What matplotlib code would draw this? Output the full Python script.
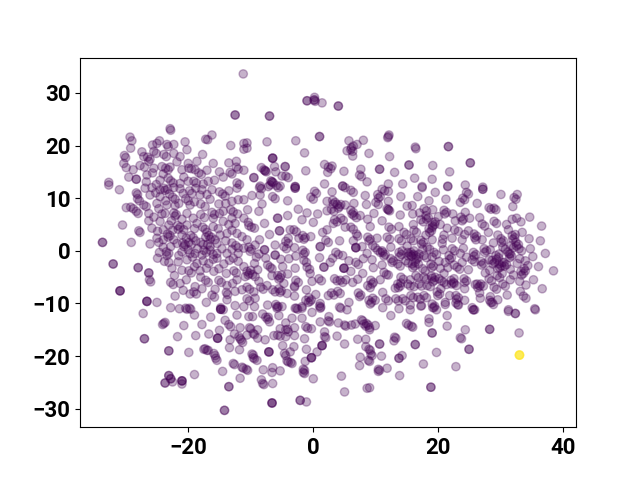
import numpy as np
import matplotlib
matplotlib.use("Agg")
import matplotlib.pyplot as plt

# (x, y) or (x, y, overlapping count)
upper_left = [(-11.2,33.6),(-12.5,25.8,2),(-22.9,23.2),(-22.8,22.9),(-29.3,21.6),(-29,20.9),(-29.2,19.5),(-30.2,18.1),(-30,17.7),(-30.3,16.6),(-29.9,15.8),
(-27.4,18.8),(-27.1,17.9),(-26.5,17.8),(-26.1,17.4),(-26.3,17),(-27.7,16.2),(-27,15.9),(-25.7,20.1),(-24.6,20.9),(-25,20.4),(-25.5,18.9),(-25.1,18.5),(-23.4,20.2),(-23.2,19.8),(-22.3,20.2),
(-20.5,20.7),(-20.2,19.2),(-22.3,18.5),(-23.9,18.3),(-23.5,17.9),(-21.3,17.9),(-21.8,16.9),(-24.2,16),(-23.6,15.7),(-23.2,15.4),(-22.9,15.9),(-25.7,14.8),(-26.6,14.4),
(-17.2,21.2),(-16.9,21.1),(-16.2,22),(-17.7,18.3),(-18.6,17),(-16,16.6),(-17,15.3),(-20,16.6),(-19.9,15.7),(-19.5,15.6),(-18.9,15.4),(-18.3,14.8),(-17.9,14.5),(-15.8,13.4),
(-13.2,20),(-11.1,20.4),(-11.1,19.3),(-13.5,16.7),(-12.3,17),(-12.3,15.9),(-12,15.5),(-13.3,14.9),(-13,14.6),(-11.1,15.3),(-32.7,13),(-29.5,14),(-28.3,13.6,2),
(-26.7,13.1),(-24.5,13.4),(-22.8,13.3),(-22.4,12.9),(-23.2,13.8),(-20.7,14),(-21.3,12.8),(-19.1,13.2),(-18.7,12.9),(-12.2,12.9),(-11.8,12.6),
(-25.5,15.7),(-21,15.4),(-16.8,13.2),(-14.4,14),(-24,14.6),(-20,13.2),(-28.8,15.4),(-25.1,12.6),(-17.6,12.7),(-15,15)]

upper_mid = [(0.2,29.15),(-1,28.5,2),(0.1,28.6),(0.3,28.4),(0.2,28.7),(1.4,28.1),(4,27.5,2),(-7,25.6,2),(1,21.7,2),(-2.8,20.9),(-7.4,20.7),(-10.6,20.5),(-10.6,19.5),(-1.4,18.6),
(12.1,22),(12,21.7),(11.9,21.5),(5.7,20.9),(8,21),(7,20.2),(6.4,19.9),(6.1,19.6),(5.4,19),(6,19.2),(6.3,18.9),(6.3,18),(8.9,18.5),(12.2,17.9),(-6.5,17.6,3),(-8.3,15.8),(-7.9,15.4),(-7.5,15),(-7.7,15.2,2),
(-6.2,16),(-4.5,16,2),(-6,15),(-5,14.2),(-4.4,14.2),(-4,13.9),(-9.5,13.9,2),(-6.8,13.3),(-6.4,12.9),(-6.6,13.1,2),(-8.5,12.3),(-1.2,15.2),(1.8,16.4),(3,16.1),(2.4,15.9),(2.8,15.6),(2.3,14.9),
(4.9,15.1),(7.6,15.5),(7.4,14.4),(7.7,14.1),(10.6,15.5,2),(13,14.9),(15.3,16.3,2),(8.6,13.1),(1.8,12.7),(4.7,12.3),(12,12.7),(14.3,12.7),(-2.9,12.2,2),(-6.9,12.5),(-7.2,12.2),(-5.3,12.3)]

upper_right = [(16.3,19.7),(16.4,19.4),(21.6,19.8,2),(25.1,16.7,2),(19.1,16.2),(21.8,15),(16.2,13.8),(19,13.6),(17.4,12.2),(21.5,12.3),(24.3,12.5),(27.1,12.1)]

left_dense = [(-31,11.6),(-32.7,12.5),(-28.3,11),(-28.1,10.7),(-28.1,9.9),(-27.8,9.5),(-29.9,8.2),(-29.2,8.3),(-28.8,8),(-28.3,7.5),(-28,7.1),(-27.1,8.7),(-26.7,8.4),(-26.3,7.1),(-26.3,5.7),(-30.5,4.9),(-27.9,3.8),(-27.7,3.5),
(-29.1,1.6),(-33.7,1.6,2),(-32,-2.5,2),(-28,-3.2,2),(-26.3,-4.2,2),(-26.2,-5.5),(-26,-5.9),(-30.9,-7.6,3),(-26.6,-9.6,3),(-25,-9.8),(-25.8,4.3),(-24.9,3.7),(-26.1,1.3),(-24.6,-0.3),(-24.7,1.6),(-23.5,-0.2),(-23.1,-0.5),(-23.4,-0.9),
(-26.9,11.9),(-25.8,12),(-24.5,11.6),(-23.9,11.9),(-23.7,11.5),(-23.3,11.7),(-22.3,12),(-21.3,11.8),(-19.4,10.9),(-17.8,11.6),(-16.2,11.6),(-14.5,10.8),(-14.1,10.4),(-12.2,11.9),
(-26.1,10.6),(-24.5,10.3),(-22.5,10.2),(-22.1,9.8),(-20.4,9.9),(-20,9.5),(-18.1,10.6),(-15.1,8.9),(-12,9.7),(-11.1,9.7),
(-24.7,8),(-23.4,8.7),(-22.1,8.6),(-19.7,8.7),(-17.3,8.4),(-16.2,7.3),(-15.8,6.9),(-14.4,7.5),(-13.2,7.8),(-12.8,7.4),(-12.1,7),
(-22.3,7.2),(-21.9,6.9),(-22.1,6.6),(-23.7,7.1),(-20.2,7.1),(-17.4,6.3),(-16,6.2),(-14.4,5.6),(-11.1,6.2),
(-24.5,5.6),(-23.1,4.9),(-21.7,4.8),(-21.3,4.5),(-21.6,4.1),(-20.2,4.9),(-17.7,4.5),(-17.3,4.1),(-18.6,5.2),(-16,4.6),(-13.5,5),(-12.5,5.2),
(-23.3,3.2),(-22.9,2.9),(-23.2,2.6),(-21,3),(-19.6,2.9),(-19.2,2.5),(-16.7,2.9),(-16.3,2.6),(-16.5,2.2),(-14.9,3),(-13.8,3.3),(-12.2,3.3),(-11.4,2.7),
(-20.9,1.5),(-20.5,1.2),(-20.7,0.8),(-21.8,1.4),(-19.9,1.6),(-19.5,1.2),(-18,1.6),(-17.6,1.2),(-16.9,1.2),(-16.5,0.8),(-15.4,1.4),(-12.4,1),(-12,0.6),(-11.1,0.5),
(-21.5,-0.9),(-19.7,-0.5),(-17.5,0.1),(-17.1,-0.3),(-18.9,-0.5),(-15.4,-0.5),(-13.8,-0.5),(-12.8,-1.4),
(-22.6,-3.3),(-20.2,-1.7),(-18.6,-2.4),(-16.7,-2.4),(-14.3,-2.5),(-19.9,-3.8),(-19.5,-4.2),(-18.1,-3.8),(-17.1,-3.3),(-15.1,-3.4),(-12.7,-3.8),(-12.3,-4.2),(-11.1,-3),
(-22.8,-6),(-22.4,-6.4),(-21.3,-6.2),(-22.2,-4.7),(-17.2,-5.6),(-16.8,-6),(-15.1,-5.6),(-14.7,-6),(-13.8,-6.6),(-18.9,-6.8),(-10.9,-4.9),(-12.2,-5.5),
(-22.1,-8.6),(-19.7,-8.2),(-19.1,-7.8),(-18.7,-8.2),(-16.2,-8.4),(-15.8,-8.8),(-13.9,-7.9),(-13.7,-8.3),(-12.5,-7.7),(-11.4,-7.4),
(-17.1,-9.8),(-13.8,-9.3),(-14.8,-10.8),(-14.4,-11.2),(-12.5,-10.4),(-11.1,-10.6),
(-25.2,11),(-23,10.8),(-20.8,10.9),(-19.8,11.4),(-18.8,11.9),(-17,10.7),(-15,11.2),(-13.5,11.4),(-25,9),(-23.6,9.5),(-21.5,9),(-19,9.3),(-18,8.9),(-16.5,9.8),(-14,9),(-13,9.4),
(-25.5,6.4),(-24.2,7),(-22.7,5.7),(-21,6),(-19.2,6.2),(-18,6.9),(-15,7.1),(-13,6.2),(-24,4),(-22.5,3.9),(-20.7,4),(-19,4.2),(-17,3.5),(-15.2,4.2),(-13,3.9),
(-25,2.4),(-24,2.1),(-22.3,2.1),(-20.3,2.4),(-18.8,1.9),(-17.2,2.6),(-15.7,2.1),(-14,1.9),(-13,1.5),(-24,0.7),(-22.8,0.8),(-21,-0.2),(-20,0.2),(-18.5,0.4),(-17.8,-0.8),(-16.5,0.1),(-16,-0.7),(-14.6,0.4),(-13,0.3),(-12,-0.5),
(-23.8,-2),(-21.6,-2.1),(-19.3,-1.2),(-17.6,-1.9),(-16,-1.6),(-15.4,-1.4),(-13.4,-1.8),(-12,-2),(-21,-3.7),(-19,-3),(-15.9,-3.9),(-13.9,-4.3),(-20.3,-5.5),(-17.8,-7.2),(-15.7,-7.3),(-12.9,-6.2),(-20.8,-7.5),(-23.1,-2.2),(-24.9,-1.4),(-18,-5)]

center = [(-8.6,12),(-8.3,11.8),(-8.5,10.6),(-9.8,10.5),(-5.9,12.4),(-5.6,12),(-2.9,11.9,2),(-6.5,10.3),(-6.1,9.9),(-4.1,9.5),(-2.4,7.9),(-0.4,10.2),(0,9.8),(0.2,11.3),(0.5,10.9),(3,11.2),(4.7,12.3),(5.1,12),(6,11.5),(6.4,11.1),(8.3,10.5),(10.3,10.7),(10.7,10.3),(10.4,10),(12,11.3),(11,11.7),(11.4,11.4),(10,9.2),(10.4,8.8),(12,9.4),(11.8,8),(12.2,7.6),(12,7.8,2),(9.7,7.1),
(3.1,9.6),(3.5,9.2),(3.2,8.9),(2.2,9.4),(3.8,8.8),(4.2,8.4),(4,8.1),(4.4,8.8),(2.9,7.9),(3.3,7.5),(2.2,7.6),(5.1,8.7),(6.5,9),(6,7.7),(6.4,7.3),(6.2,7),(4.4,6.2),(4.8,5.8),(3.4,5.9),(3.8,5.5),(6.5,6.7),(6.9,6.3),(7.5,6.7),(3.2,5.2),(2.2,4),(1.5,3.5),
(-10.5,7.8),(-8.7,7.5),(-5.7,6.2,2),(-4.1,6.7),(-1.8,5.9),(0,5.4),(-7.8,5.2),(-10.4,5.4),(-10.3,4.8),(-9.9,4.5),(-9.4,4.3),(-5.4,3.8,2),(-7,3.1),(-3.7,4),(-3.1,4),(-2.7,3.6),(-1.7,2.9),(-1.3,2.5),(-1.5,2.2),(-0.4,2.7),(-2.3,2.4),(-8.6,2.1),(-4,2.4),(-4.4,1.8),(-4,1.4),(-10.6,2.1),
(-10.3,0.7),(-9.9,0.3),(-10.1,-0.1),(-7.8,0.2,2),(-6.1,1.1),(-6.1,-0.8,2),(-4.7,0.8),(-4.3,0.4),(-3,0.6),(-1.7,0.1),(-1.3,-0.3),(-1.5,-0.6),(1.1,0.8,2),(1,-1.3),(2,2),(2.4,1.6),(4.2,1.9),(6.8,0.6,3),(6,4.5),(6.4,4.1),(6.9,3.2),(7.1,2.8),(9.1,4.6),(11,5.7),(12.1,4.5),(12.5,4.1),(13.7,4.6),(14.5,3.5),(14.9,3.1),(8.7,2.6),(9.1,2.2),(8.9,1.9),(10.2,2.4),(11.8,2.6),(12.2,2.2),(13.7,2.3),(14.1,1.9),
(9.5,1),(9.9,0.6),(8.6,-0.5),(10.3,0.1),(10.7,-0.3),(11.1,-0.3),(11.5,-0.7),(11.3,-1),(11,0),(12.4,-1.5),(12.8,-1.9),(12.6,-2.2),(13.7,-0.3),(14.1,-0.7),(13.8,-1.1),(14.2,0),(15.1,-0.3),(15.5,-0.7),(15.2,-1),(9.4,-1.7),(11,-2.7),(13.5,-2.5),(13.9,-2.9),(14.8,-1.9),(15.2,-2.3),(3.1,-1.4),(3.6,-0.3),(4,-0.7),(4.7,-0.9),(1.7,-3.1,2),(4.9,-3.3,3),(6.8,-2.2),(7.2,-2.6),(7.9,-4.3),(-1,-3.1),(-0.6,-3.5),(-1.5,-1.8),(-1.1,-2.2),(-2.9,-3.3),
(-8.7,-0.6),(-9.4,-2.4),(-7.3,-2.7),(-6.9,-3.1),(-6.6,-3.4),(-4.9,-3),(-10.6,-3.9),(-10.2,-4.3),(-10.4,-4.6),(-10,-3.7),(-8.9,-3.6),(-9.7,-4.5),(-9.3,-4.9),(-6.6,-4.7),(-5.7,-4.7),(-5.3,-5.1),(-5.5,-5.4),(-5.1,-4.6),(-4.1,-4.4),(-2.8,-5.6),(-2.4,-6),(-4.7,-6.2),(-3,-6.7),(-0.5,-4.3),(0.9,-5.3),(1.3,-5.7),(-0.2,-5.8),(3.4,-5.3),(3.8,-5.7),(4.3,-5.6),(4.7,-6),(5.2,-5.5),(6.3,-6),(9.2,-5.6),(9.6,-6),(9.4,-6.3),(8.7,-6.6),(9.1,-7),(10.7,-5.5),(12,-4.6),(11.3,-4.1),(11.7,-4.5),(13.5,-6.3),(13.9,-6.7),(13.6,-7),(14,-6.1),(14,-5),(14.4,-5.4),(15.1,-6.3),(15.5,-6.7),
(-1.1,-7.4),(2.4,-8.5),(2.9,-8),(3.3,-8.4),(3.9,-7.7),(4.3,-8.1),(7.2,-8),(7.6,-8.4),(7.4,-8.7),(11.1,-7.9),(13.1,-7.1),(-0.7,-8.9),(-0.3,-9.3),(-0.5,-9.6),(-1.2,-9.4),(-0.8,-9.8),(1.1,-10),(5.7,-9.8),(8.9,-9.4),(9.3,-9.8),(9.1,-10.1),(9.5,-9),(9.9,-9.4),(11.6,-9.1),(12,-9.5),(13.2,-9.1),(13.6,-9.5),(14.3,-9.1),(14.7,-9.5),(-10.6,-6.9),(-10.2,-7.3),(-9.5,-7.8),(-8.4,-6.9),(-8,-7.3),(-6.5,-7.4),(-6.1,-7.8),(-5.5,-7.2),(-5.1,-7.6),(-5.3,-7.9),(-4.2,-8.1),(-3,-8.6),(-9.3,-9),(-7.3,-10.3),(-6,-10.2),(-5.6,-10.6),(-5.8,-10.9),(-2.9,-10.9),(-1.8,-10.9),(-10.6,-9.1),(-10.2,-9.5),(1.1,-10.9),
(-8.2,8.9),(-9.3,1.1),(-7.6,-1.4),(-8.7,-5.8),(-7.4,-6.6),(-9.1,-1.2),(-5.2,-1.6),(-3.9,-1.5),(-2.8,-1),(2.7,-2.2),(5.7,-1.9),(6.4,1.9),(5.1,4.5),(7.8,0.8),(8,-1.5),(9.6,-3.2),(12.4,0.7),(15,0.9),(8.7,6),(13.9,6.8),(15,8.5),(14,10.3),(8.5,8.8),(-1,7.2),(0.7,7),(-3,-6.9),(0.4,-8.3),(6,-3.9),(7.1,-5.4)]

right_dense = [(17.4,12),(19.5,11.1),(21.5,12.2),(27.1,11.7,2),(16.7,10.3),(18.5,9.5),(21.2,9.8),(24.5,11.1),(24.8,10.8),(23.9,10),(24.2,9.7),(23.5,9.2),(26.2,9),(30,10.7),(32.6,10.7),(32.1,10.1),(32.4,9.8),(31.9,8.4),(28.1,8.2),(28.4,7.9),(28.9,8.1),(29.2,7.8),(15.8,8.6),(17.7,8),(18.1,7.6),(19.1,7.8),(20.9,7.7),(21.3,7.3),(21,7),(24.3,7.3),(23.6,6.4),(24,6),(23.8,5.7),(22.7,5.7),(25,6.2),(26.6,6.3),(28.9,5.6),(29.3,5.2),(31.8,6),(32.5,6.2),(34.6,6.4),(36.5,4.7),(27,5.1),(27.4,4.7),(28,3.5),(15.9,7),(18,6.7),(18.4,6.3),(18.1,6),(19,5.4),(19.4,5),(19.1,4.7),(19.5,5.5),(17.2,5.9),(17.6,5.5),(18.5,4.2),(18.9,3.8),(18.6,3.5),(19,4.4),(20.3,5),(21.4,4.3),(23.2,3.7),(24.8,3.8),(25.7,3.2),(26.1,2.8),(25.8,2.5),(26,2.1),(27,2.1),(23.8,2.1),(22.2,2.4),(20.9,3),(17.2,2),(17.6,1.6),(17.3,1.3),(16.1,3.9),(16.5,3.5),(15.6,2.3),(16,1.9),(19,2.1),(20.6,1.4),
(30,2.3),(30.4,1.9),(30.1,1.6),(31.2,4),(31.8,2.9),(32.2,2.5),(31.9,2.2),(32.3,3.1),(32.4,1.6),(32.8,1.2),(32.5,0.9),(33.4,3.5),(34.5,2.3),(36.3,1.9),(37.1,-0.5),(34.7,0.4),(35.1,-1.1),(33.9,-1.9),(36,-3),(38.4,-3.8),(35.2,-5.5),(36.6,-7.2),(33.1,-7.7),(33.6,-8.6),(34,-9),(29.5,-9.3),(28.2,-9.4),(28.6,-9.8),(28.3,-8.7),(31,-8.4),(33.2,-3.9),(33.6,-4.3),(33.3,-4.6),(33.7,-3.4),(33.9,-3.8),(32.6,-2.4),(31.3,-0.6),(31.7,-1),(31.4,-1.3),(30.3,0.7),(30.7,0.3),(29.2,-0.9),(29.6,-1.3),(29.3,-1.6),(29.7,-0.6),(29.7,-2.5),(30.1,-2.9),(29.8,-3.2),(30.2,-2.2),(29.5,-3.4),(28.6,-1.8),(29,-2.2),(28.7,-2.5),(30.5,-2.2),(30.9,-2.6),(30.6,-2.9),(28.1,-1.7),(28.3,0.2),(27.3,0.4),(27.7,0),(27.4,-0.3),(32.9,0.4),(33.3,0),(31.6,1),(32,0.6),(31.1,-0.2),(31.5,-0.6),(32,-4.6),(31.5,-5.5),(29.4,-4.7),(29.8,-5.1),(28.1,-5.3),(28.5,-5.7),(27.5,-4.2),(30.3,-6.3),(30.7,-6.7),(28.9,-6.9),(29.3,-7.3),(26.2,-6.3),(26.6,-6.7),(26.3,-7),(25.9,-6.4),(26.8,-6.3),(27.2,-6.7),(26.6,-8),(26.7,-9),(24.1,-5.3),(24.5,-5.7),(24.2,-6),(24.8,-3.6),(23,-3.1),(23.4,-3.5),(23.8,-2.2),(25.4,-1.7),(25.8,-2.1),(26.8,-2),(27.2,-2.4),(26.9,-2.7),(25.6,-0.3),(26,-0.7),(25.7,-1),(24,0.5),(22.2,0.4),(22.6,0),(21.7,-0.9),(22.1,-1.3),(21.8,-1.6),(21.1,-2.2),(23.5,-0.5),(20.8,0.2),(19.3,-0.3),(19.7,-0.7),(18.2,0.7),(18.6,0.3),(17.7,-0.9),(18.1,-1.3),(16.4,-0.9),(16.8,-1.3),(16.5,-1.6),(16.9,-0.6),(15.8,-2.5),(16.2,-2.9),(15.9,-3.2),(16.3,-2.2),(15.6,-0.3),(16,-0.7),(15.7,-1),(16.1,0),(18.8,-2.5),(19.2,-2.9),(18.9,-3.2),(17.5,-3.4),(17.9,-3.8),(20.3,-3.3),(20.9,-4.3),(16.4,-4.7),(16.8,-5.1),(15.5,-5.5),(17.7,-5),(18.1,-5.4),(19,-5.2),(19.4,-5.6),(19.1,-5.9),(19.5,-5),(18.9,-4.8),(20.1,-5.3),(20.5,-5.7),(20.9,-6),(21.3,-6.4),(22,-5.6),(22.4,-6),(22.1,-6.3),(22.5,-5.3),(22.5,-6.2),(22.9,-6.6),(24.2,-7.2),(16.9,-6.3),(17.3,-6.7),(16.1,-6.8),(18.7,-6.8),(19.8,-7.8),(20.2,-8.2),(19.9,-8.5),(22.8,-8.5),(23.2,-8.9),(22.9,-9.2),(21.8,-8.5),(17.7,-8.5),(18.1,-8.9),(16.7,-8.8),(17.1,-9.2),(15.6,-8.5),(16,-8.9),(24.2,-9.4),(21.1,-9.8),(22.8,-9.9),(23.2,-10.3),(19,-10.1),(19.4,-10.5),(19.1,-10.8),(17.3,-10.4),(25.4,-10.8),(25.8,-11.2),(28.4,-9.8),(28.8,-10.2),(31.2,-11.2),(35.4,-11),(19.3,-10.8),(19.7,-11.2),(15.5,-10.3),
(17,7.2),(20,6.5),(22.3,7),(20.7,2.2),(18,3),(16.8,-2.5),(17.5,0.3),(19,-1.2),(20.1,-2),(22.5,-2.7),(24.5,-1.2),(21.5,-3.2),(18.2,-6.6),(20.4,-7.2),(30.9,5),(33.2,5.5),(29.5,3),(28.8,1.5),(33,-1.5),(34.3,-2.8),(31.5,-3.5),(28.2,-3.7),(33,-5.8),(34,-6.5),(30.2,-4.3),(16,5),(22.6,4),(24.2,3.1)]

lower_left = [(-27.2,-11.9),(-24.1,-14),(-23.9,-13.8),(-23.7,-13.6),(-27,-16.7,2),(-23.1,-19,2),(-21.7,-16.3),(-20.7,-14.2),(-22.8,-10.8),(-21.4,-11),(-20.4,-10.9),(-20.2,-11.1),(-19.8,-10.9),(-19.6,-11.1),(-19,-12.2),(-16.4,-12.6),(-17.8,-14),(-18.8,-16.1),(-16.7,-15.8),(-15,-15.1),(-15.3,-16.6,3),(-14.8,-11.1,3),(-14.1,-13.2),(-13.5,-14),(-13.2,-14.4),(-12.2,-12.2),(-11.7,-14.6),(-12.6,-15.8),(-11.9,-16.3),(-11.7,-16.7),(-11.5,-17),(-11.3,-17.4),(-13.3,-16.9),(-13.4,-18.4),(-11.8,-18.8),(-19.9,-19.3),(-17.5,-18.7),(-17.3,-18.6),(-17,-18.9),(-16.8,-18.9),(-15.9,-19.5),(-15.7,-19.9),(-15.6,-20.4),(-15.4,-20.8),(-12.8,-21.4),(-12.6,-21.6),(-11.4,-22.1),(-11.2,-22.3),(-14.5,-22.9),(-11.7,-24.2),(-13.5,-25.8,2),(-14.2,-30.3,2),(-19,-23.5),(-23.1,-23.7,2),(-22.8,-24.3,2),(-22.5,-24.9),(-23.7,-25.1,2),(-21,-24.7,3),(-21,-25.3)]

lower_mid = [(-9.4,-10.6),(-5.8,-10.6),(-5,-10.6),(-2.7,-10.9),(-2.5,-11.1),(-1.8,-10.6),(-0.2,-11.7),(1,-10.5),(1.2,-10.7),(4.2,-10.7),(4.4,-10.9),(5.4,-11.2),(11.1,-10.8),(13.7,-11),(12.4,-12.3),(14.9,-13.8),(15.2,-14.1),(-10.3,-12.5),(-9.7,-12.5),(-8.1,-12),(-7.6,-12.6),(-7.3,-13),(-7.2,-12.6),(-7,-13.5),(-5.5,-12.3),(-3.4,-12.8),(-1.8,-12.8),(-4.4,-13.7),(-3,-14.6),(-5.3,-14.8),(-4.4,-15),(-4,-15.4),(-4.1,-14.9),(-5.7,-16),(-5.3,-16.2),(-6.3,-16.1),(-4.4,-16.3),(-3,-16.1),(-1.2,-14.4),(-0.9,-14.7),(-0.3,-14.8),(1.1,-13.5),(2.5,-12.5),(2.4,-13.3),(2.6,-13.5),(4,-13.7),(5,-14.1),(5.2,-14.3),(6.1,-14.1),(6.7,-13.9),(7.7,-13.1),(7.9,-13.3),(8.1,-13.9),(8.4,-14.3),(8.5,-13.8),(8.8,-14.1),(9,-14.6),(9,-15),(9.9,-14.2),(1.8,-15.4),(1.8,-16.3),(2,-16.5),(3.8,-16.2),(-1.4,-16.7),(7.1,-16.8),(8.4,-16.8),(13,-16.4),(13.2,-16.6),(12.9,-17.1),(10.6,-17.7,2),(5,-17.7),(8.4,-18.2),(8.9,-18.7),(9.1,-18.9),(9.2,-19.6),(9.4,-19.9),(8.8,-20.8),(9,-21),(7.5,-20.2),(7.4,-21.8),(10.9,-20),(14.2,-19.9),(13.7,-20.4,2),(11.8,-22.3),(10.4,-22.5),(10.6,-22.7),(10.4,-22.9),(13.8,-23.7),(4.5,-23.8),(9,-26),(8.6,-26.1),(5,-26.8),(1.4,-18,3),(0.6,-19.2),(-0.3,-20.3,3),(-1.1,-18.7),(-1.3,-21),(-3.1,-18.2),(-3.7,-19.2),(-4.6,-19.5),(-4.4,-19.9),(-4.2,-20.9),(-4,-21.1),(-3.6,-21.2),(-3.4,-21.4),(-4.9,-18),(-7.1,-19.2,3),(-9.8,-19.6),(-9.6,-19.8),(-9.6,-20.3),(-9.4,-20.5),(-9,-20.8),(-7.7,-16.9),(-8.9,-15),(-10.2,-14.6),(-10,-14.8),(-9.6,-15.7),(-9.4,-15.9),(-8.9,-16.6),(-10.6,-16),(-10.7,-22.5),(-10.5,-22.7),(-8,-22.6),(-6.5,-22.2),(-6.6,-23.1),(-5.3,-22.8),(-1.6,-22.5),(-1.4,-22.7),(-1.6,-23.1),(-1.4,-23.3),(0,-24.3),(-8.3,-24.5),(-8.1,-25.2),(-7.9,-25.4),(-6.5,-25.2),(-6.6,-28.9,3),(-2.1,-28.4,2),(-1.1,-28.7)]

lower_right = [(15.5,-11.2),(17.2,-10.5),(21.1,-10.2),(23.1,-10.2),(25.6,-11.2,2),(31.2,-11.5),(32.3,-11.9,2),(35.5,-11.2),(21.4,-12.3),(18.5,-12.9),(18.5,-13.6),(15.7,-14.3),(15.9,-14.5),(21.4,-14.3),(24.3,-15),(28.2,-14.9,2),(19,-15.6,2),(32.9,-15.6),(23.5,-16.5),(23.7,-16.7),(16.3,-17.8,2),(19.7,-19.3),(24.9,-18.7,2),(17.6,-21.5),(22.8,-22),(18.8,-25.9,2)]

other_class = [(32.96,-19.8,4)]

regions = upper_left + upper_mid + upper_right + left_dense + center + right_dense + lower_left + lower_mid + lower_right

def expand(points):
    xs, ys = [], []
    for p in points:
        n = p[2] if len(p) > 2 else 1
        xs += [p[0]] * n
        ys += [p[1]] * n
    return xs, ys

x0, y0 = expand(regions)
x1, y1 = expand(other_class)
x = np.array(x0 + x1)
y = np.array(y0 + y1)
labels = np.array([0] * len(x0) + [1] * len(x1))

plt.rcParams['font.family'] = ['Roboto', 'DejaVu Sans']
fig, ax = plt.subplots(figsize=(6.4, 4.8), dpi=100)
ax.scatter(x, y, c=labels, alpha=0.3)
ax.set_xlim(-37.3, 42.0)
ax.set_ylim(-33.5, 36.7)
ax.set_xticks([-20, 0, 20, 40])
ax.set_yticks([-30, -20, -10, 0, 10, 20, 30])
ax.tick_params(labelsize=16)
for t in ax.get_xticklabels() + ax.get_yticklabels():
    t.set_fontweight('bold')
fig.savefig('out.png', dpi=100)
